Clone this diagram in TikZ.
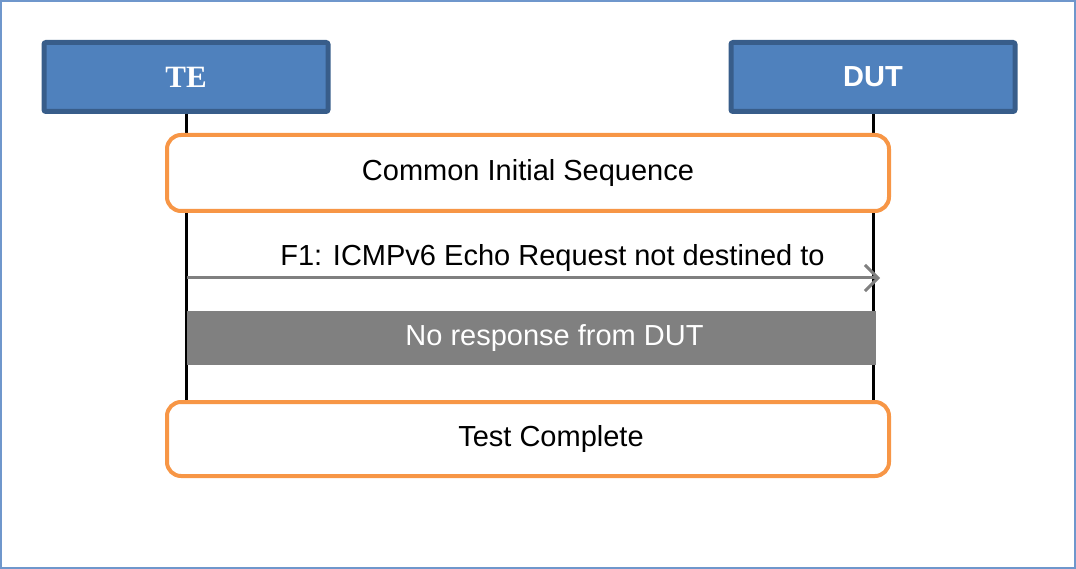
\documentclass[tikz,border=0pt]{standalone}
\usepackage{fontspec}
\setmainfont{Liberation Sans}
\newfontfamily\tefont{Liberation Serif}
\usepackage{tikz}
\usetikzlibrary{arrows.meta}
\definecolor{boxblue}{HTML}{4F81BD}
\definecolor{boxedge}{HTML}{385D8A}
\definecolor{phaseorange}{HTML}{F79646}
\definecolor{msggray}{HTML}{808080}
\definecolor{frameblue}{HTML}{6F97CC}
\tikzstyle{entity} = [draw=boxedge, fill=boxblue, line width=5pt, rounded corners=2pt, minimum width=284pt, minimum height=69pt, text=white, font=\fontsize{29}{34}\selectfont\bfseries]
\tikzstyle{phase} = [draw=phaseorange, fill=white, line width=4pt, rounded corners=14pt, minimum width=722pt, font=\fontsize{29}{34}\selectfont]
\tikzstyle{nores} = [fill=msggray, minimum width=689pt, minimum height=54pt, text=white, font=\fontsize{29}{34}\selectfont]
\tikzstyle{msg} = [draw=msggray, line width=3pt, -{Straight Barb[length=13pt,width=26pt,line width=3pt]}]
\tikzstyle{life} = [draw=black, line width=3pt]

\begin{document}
\begin{tikzpicture}[x=1pt, y=-1pt]
	\useasboundingbox (0,0) rectangle (1076,569);
	\draw[frameblue, line width=1.5pt] (1,1) rectangle (1075,568);
	% entities
	\node[entity] (te) at (186,77) {\tefont\fontsize{31}{34}\selectfont TE};
	\node[entity] (dut) at (873,77) {DUT};
	% lifelines
	\coordinate (teend) at (186,402);
	\coordinate (dutend) at (873,402);
	\draw[life] (te.south) -- (teend);
	\draw[life] (dut.south) -- (dutend);
	% phases
	\node[phase, minimum height=76pt] (init) at (528,173) {Common Initial Sequence};
	\node[phase, minimum height=74pt] (done) at (528,439) {\hspace*{46pt}Test Complete};
	% message
	\coordinate (f1s) at (187,278);
	\coordinate (f1e) at (880,278);
	\draw[msg] (f1s) -- (f1e)
		node[pos=0.5, above=2pt, xshift=19pt, text=black, font=\fontsize{29}{34}\selectfont] (f1) {F1: ICMPv6 Echo Request not destined to};
	\node[nores] (none) at (531.5,338) {\hspace*{46pt}No response from DUT};
\end{tikzpicture}
\end{document}
